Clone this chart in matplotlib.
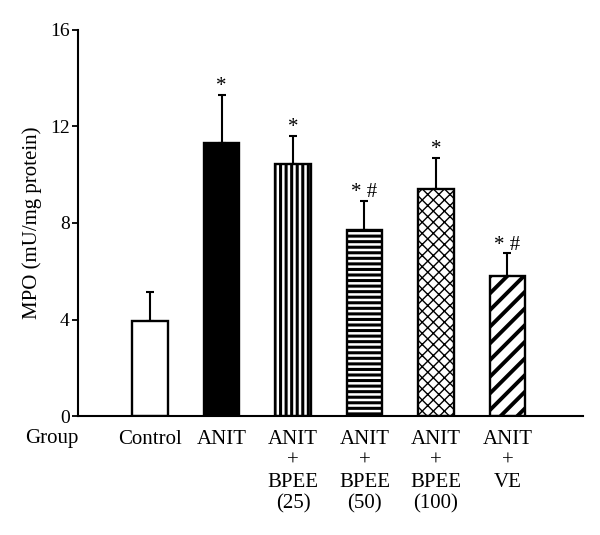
import matplotlib
matplotlib.use("Agg")
import matplotlib.pyplot as plt
import matplotlib.transforms as mtransforms

plt.rcParams["font.family"] = ["Liberation Serif", "DejaVu Serif"]

# --- data ---
groups = ["Control", "ANIT", "ANIT\n+\nBPEE\n(25)", "ANIT\n+\nBPEE\n(50)",
          "ANIT\n+\nBPEE\n(100)", "ANIT\n+\nVE"]
mpo_mean = [3.93, 11.33, 10.45, 7.69, 9.42, 5.79]
mpo_err = [1.19, 1.97, 1.15, 1.24, 1.28, 0.95]
marks = ["", "*", "*", "* #", "*", "* #"]

# hatch style per bar
fills = ["white", "black", "white", "white", "white", "white"]
hatches = [None, None, "|||", "---", "xxx", "//"]
hatch_widths = [1.0, 1.0, 2.2, 2.2, 1.0, 2.8]


def main() -> None:
    fig = plt.figure(figsize=(6.0, 5.35), dpi=100)
    ax = fig.add_axes([0.13, 0.2224, 0.842, 0.7216])

    x = list(range(len(groups)))
    for i in x:
        with plt.rc_context({"hatch.linewidth": hatch_widths[i]}):
            ax.bar(i, mpo_mean[i], width=0.5, color=fills[i], edgecolor="black",
                   linewidth=1.7, hatch=hatches[i], zorder=2)
    ax.errorbar(x, mpo_mean, yerr=[[0] * len(x), mpo_err], fmt="none",
                ecolor="black", elinewidth=1.5, capsize=3.2, capthick=1.5, zorder=1)

    # significance marks above the error bars
    for i in x:
        if marks[i]:
            top = mpo_mean[i] + mpo_err[i]
            ax.text(i, top - 0.05, marks[i], ha="center", va="bottom", fontsize=15)

    ax.set_xlim(-1.008, 6.06)
    ax.set_ylim(0, 16)
    ax.set_yticks([0, 4, 8, 12, 16])
    ax.set_xticks(x)
    ax.set_xticklabels(groups, fontsize=15, linespacing=1.17)
    ax.tick_params(axis="x", length=0, pad=10)
    ax.tick_params(axis="y", direction="out", length=4, width=1.3, labelsize=14, pad=2)
    ax.spines["top"].set_visible(False)
    ax.spines["right"].set_visible(False)
    ax.spines["left"].set_linewidth(1.5)
    ax.spines["bottom"].set_linewidth(1.5)
    ax.set_ylabel("MPO (mU/mg protein)", fontsize=15, labelpad=6)

    trans = mtransforms.blended_transform_factory(ax.transData, ax.transAxes)
    ax.text(-1.37, -0.034, "Group", transform=trans, ha="center", va="top", fontsize=15)

    fig.savefig("out.png", dpi=100)


if __name__ == "__main__":
    main()
